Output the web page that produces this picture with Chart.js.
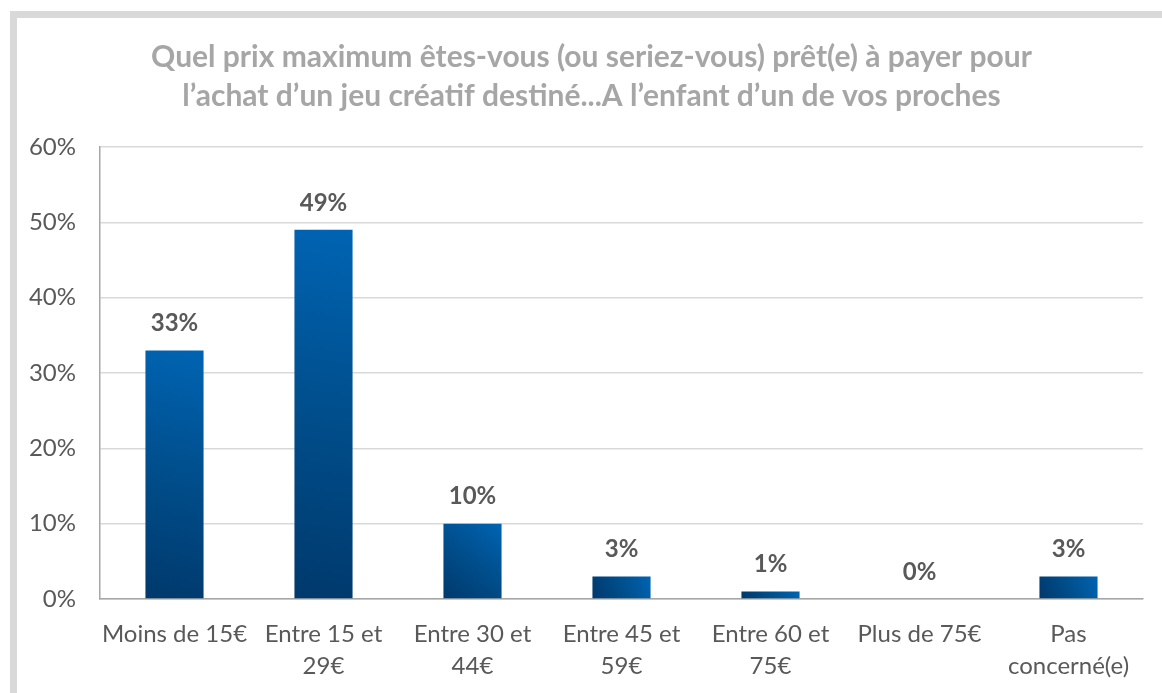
<!DOCTYPE html>
<html>
<head>
<meta charset="utf-8">
<script src="https://cdn.jsdelivr.net/npm/chart.js@4"></script>
<style>
  html, body { margin: 0; padding: 0; background: #fff; overflow: hidden; }
  #frame { position: absolute; left: 10px; top: 11px; width: 2000px; height: 2000px; border: 7px solid #d9d9d9; box-sizing: border-box; }
  #wrap { position: absolute; left: 0; top: 0; width: 1162px; height: 693px; }
</style>
</head>
<body>
<div id="frame"></div>
<div id="wrap"><canvas id="c"></canvas></div>
<script>
const titleLines = [
  "Quel prix maximum êtes-vous (ou seriez-vous) prêt(e) à payer pour",
  "l’achat d’un jeu créatif destiné...A l’enfant d’un de vos proches"
];
const categories = [
  ["Moins de 15€"],
  ["Entre 15 et", "29€"],
  ["Entre 30 et", "44€"],
  ["Entre 45 et", "59€"],
  ["Entre 60 et", "75€"],
  ["Plus de 75€"],
  ["Pas", "concerné(e)"]
];
const values = [33, 49, 10, 3, 1, 0, 3];
const yTicks = [0, 10, 20, 30, 40, 50, 60];

const BAR_FRACTION = 0.39;
const FONT = "Lato, Carlito, 'Open Sans', sans-serif";

function barGradient(ctx) {
  const chart = ctx.chart;
  const area = chart.chartArea;
  if (!area || ctx.dataIndex === undefined) return '#0060aa';
  const xs = chart.scales.x, ys = chart.scales.y;
  const i = ctx.dataIndex;
  const cx = xs.getPixelForValue(i);
  const step = xs.getPixelForValue(1) - xs.getPixelForValue(0);
  const w = step * BAR_FRACTION;
  const top = ys.getPixelForValue(values[i]);
  const base = ys.getPixelForValue(0);
  if (base - top < 0.5) return '#0060aa';
  const g = chart.ctx.createLinearGradient(cx - w / 2, base, cx + w / 2, top);
  g.addColorStop(0, '#00396c');
  g.addColorStop(0.55, '#00508f');
  g.addColorStop(1, '#0064b3');
  return g;
}

const labelPlugin = {
  id: 'valueLabels',
  afterLayout(chart) {
    // let the y tick labels use the space left of the axis box (no clipping)
    chart.scales.y.left = 0;
  },
  afterDatasetsDraw(chart) {
    const ctx = chart.ctx;
    const meta = chart.getDatasetMeta(0);
    ctx.save();
    ctx.font = "bold 24px " + FONT;
    ctx.fillStyle = '#595959';
    ctx.textAlign = 'center';
    ctx.textBaseline = 'middle';
    meta.data.forEach((bar, i) => {
      ctx.fillText(values[i] + '%', bar.x, bar.y - 27);
    });
    ctx.restore();
  }
};

new Chart(document.getElementById('c'), {
  type: 'bar',
  data: {
    labels: categories,
    datasets: [{
      data: values,
      backgroundColor: barGradient,
      borderWidth: 0,
      categoryPercentage: 1,
      barPercentage: BAR_FRACTION
    }]
  },
  options: {
    responsive: true,
    maintainAspectRatio: false,
    animation: false,
    layout: { padding: { left: 40, right: 19, top: 0, bottom: 0 } },
    plugins: {
      legend: { display: false },
      tooltip: { enabled: false },
      title: {
        display: true,
        text: titleLines,
        color: '#a6a6a6',
        font: { family: FONT, size: 30, weight: 'bold', lineHeight: 1.3 },
        padding: { top: 37.5, bottom: 31.5 }
      }
    },
    scales: {
      x: {
        offset: true,
        grid: {
          offset: true,
          drawTicks: false,
          color: (c) => (c.index === categories.length ? '#d9d9d9' : 'rgba(0,0,0,0)'),
          lineWidth: 1.5
        },
        border: { display: true, color: '#a6a6a6', width: 1.5 },
        ticks: {
          color: '#595959',
          font: { family: FONT, size: 24, lineHeight: 1.333 },
          padding: 19,
          maxRotation: 0,
          autoSkip: false
        },
        afterFit(s) { s.height = 94; }
      },
      y: {
        min: 0,
        max: 60,
        afterBuildTicks(s) { s.ticks = yTicks.map(v => ({ value: v })); },
        grid: { color: '#d9d9d9', lineWidth: 1.5, drawTicks: false },
        border: { display: true, color: '#a6a6a6', width: 1.5 },
        ticks: {
          color: '#595959',
          font: { family: FONT, size: 24 },
          padding: 24,
          callback: (v) => v + '%'
        },
        afterFit(s) { s.width = 60; }
      }
    }
  },
  plugins: [labelPlugin]
});
</script>
</body>
</html>
